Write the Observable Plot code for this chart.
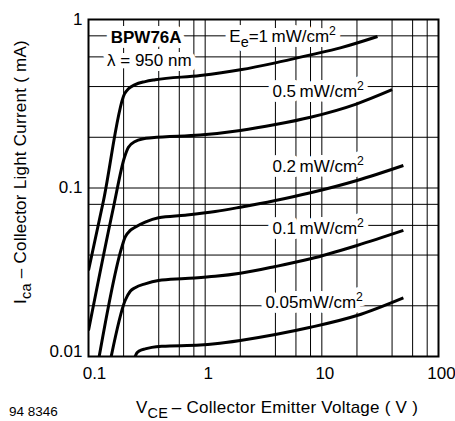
<!DOCTYPE html>
<html>
<head>
<meta charset="utf-8">
<script src="https://cdn.jsdelivr.net/npm/d3@7"></script>
<script src="https://cdn.jsdelivr.net/npm/@observablehq/plot@0.6"></script>
<style>
  html, body { margin: 0; padding: 0; background: #fff; }
  #chart { width: 455px; height: 421px; }
</style>
</head>
<body>
<div id="chart"></div>
<script>
// ---- Data ----
const vce1 = [0.1, 0.1345, 0.2035, 0.22, 0.251, 0.306, 0.373, 0.906, 2, 4, 8, 14.4, 30];
const ica1 = [0.0324, 0.0843, 0.362, 0.388, 0.411, 0.428, 0.439, 0.465, 0.503, 0.553, 0.617, 0.679, 0.793];

const vce05 = [0.1, 0.1637, 0.2035, 0.22, 0.251, 0.296, 0.349, 0.906, 2, 4, 8, 20, 40];
const ica05 = [0.01427, 0.0769, 0.1524, 0.1747, 0.1888, 0.196, 0.1986, 0.206, 0.2195, 0.238, 0.263, 0.316, 0.383];

const vce02 = [0.1235, 0.193, 0.206, 0.228, 0.251, 0.306, 0.398, 0.674, 1.218, 2, 4, 8, 20, 50];
const ica02 = [0.01, 0.0446, 0.0511, 0.056, 0.0585, 0.0627, 0.0666, 0.069, 0.0725, 0.0769, 0.0843, 0.0937, 0.1108, 0.136];

const vce01 = [0.1565, 0.206, 0.228, 0.251, 0.306, 0.398, 0.674, 1.218, 2, 4, 8, 20, 50];
const ica01 = [0.01, 0.0215, 0.0244, 0.02558, 0.027, 0.02825, 0.029, 0.0299, 0.0312, 0.0342, 0.038, 0.0456, 0.056];

const vce005 = [0.251, 0.26, 0.277, 0.306, 0.349, 0.4256, 0.906, 1.218, 2, 4, 8, 20, 50];
const ica005 = [0.01, 0.0105, 0.01086, 0.0111, 0.01133, 0.0115, 0.0117, 0.0119, 0.01245, 0.0135, 0.0149, 0.0175, 0.0223];

const seriesNames = ["1", "0.5", "0.2", "0.1", "0.05"];
const seriesX = [vce1, vce05, vce02, vce01, vce005];
const seriesY = [ica1, ica05, ica02, ica01, ica005];

const xTicks = [0.1, 1, 10, 100];
const xTickLabels = ["0.1", "1", "10", "100"];
const yTicks = [0.01, 0.1, 1];
const yTickLabels = ["0.01", "0.1", "1"];
const xGrid = [0.2, 0.4, 0.6, 0.8, 1, 2, 4, 6, 8, 10, 20, 40, 60, 80];
const yGrid = [0.02, 0.04, 0.06, 0.08, 0.1, 0.2, 0.4, 0.6, 0.8];

// curve annotations (text + anchor in data units)
const labelTexts = ["λ = 950 nm", "Ee=1 mW/cm2", "0.5 mW/cm2", "0.2 mW/cm2", "0.1 mW/cm2", "0.05mW/cm2"];
const labelX = [0.332, 4.61, 9.3, 9.3, 9.3, 8.59];
const labelY = [0.57, 0.79, 0.372, 0.134, 0.0575, 0.0208];
const boldTexts = ["BPW76A"];
const boldX = [0.312];
const boldY = [0.78];

const xTitle = [["V"], ["CE", "sub"], ["\u2009– Collector Emitter Voltage ( V )"]];
const yTitle = [["I"], ["ca", "sub"], [" – Collector Light Current ( mA)"]];
const figureCode = "94 8346";

// ---- Build tables ----
const curves = seriesNames.flatMap((s, k) => seriesX[k].map((x, i) => ({series: s, x, y: seriesY[k][i]})));
const labels = labelTexts.map((t, i) => ({t, x: labelX[i], y: labelY[i]}));
const bolds = boldTexts.map((t, i) => ({t, x: boldX[i], y: boldY[i]}));
const xFmt = new Map(xTicks.map((d, i) => [d, xTickLabels[i]]));
const yFmt = new Map(yTicks.map((d, i) => [d, yTickLabels[i]]));

const FONT = "'Liberation Sans', Arial, Helvetica, sans-serif";
const FS = 17;
const textOpts = {x: "x", y: "y", text: "t", fontSize: FS, textAnchor: "middle", lineAnchor: "middle"};
const haloOpts = {fill: "#fff", stroke: "#fff", strokeWidth: 10, strokeLinejoin: "round"};

const svg = Plot.plot({
  width: 455,
  height: 421,
  marginLeft: 88,
  marginRight: 17,
  marginTop: 19,
  marginBottom: 65,
  style: {fontFamily: FONT, fontSize: FS + "px", color: "#000", background: "#fff"},
  x: {type: "log", domain: [0.1, 100]},
  y: {type: "log", domain: [0.01, 1]},
  marks: [
    Plot.ruleX(xGrid, {stroke: "#000", strokeWidth: 1}),
    Plot.ruleY(yGrid, {stroke: "#000", strokeWidth: 1}),
    // white knock-out behind the labels
    Plot.text(bolds, {...textOpts, ...haloOpts, fontWeight: "bold"}),
    Plot.text(labels, {...textOpts, ...haloOpts}),
    // label text
    Plot.text(bolds, {...textOpts, fontWeight: "bold", fill: "#000"}),
    Plot.text(labels, {...textOpts, fill: "#000"}),
    Plot.line(curves, {x: "x", y: "y", z: "series", stroke: "#000", strokeWidth: 3,
      curve: "monotone-x", clip: true, strokeLinecap: "butt"}),
    Plot.frame({stroke: "#000", strokeWidth: 2}),
    Plot.axisX({ticks: xTicks.slice(0, 1), tickFormat: d => xFmt.get(d), tickSize: 0, tickPadding: 10,
      fontSize: FS, dx: 6, label: null}),
    Plot.axisX({ticks: xTicks.slice(1), tickFormat: d => xFmt.get(d), tickSize: 0, tickPadding: 10,
      fontSize: FS, dx: 3, label: null}),
    Plot.axisY({ticks: yTicks.slice(1), tickFormat: d => yFmt.get(d), tickSize: 0, tickPadding: 6,
      fontSize: FS, label: null}),
    Plot.axisY({ticks: yTicks.slice(0, 1), tickFormat: d => yFmt.get(d), tickSize: 0, tickPadding: 6,
      fontSize: FS, dy: -5, label: null})
  ]
});

// ---- rich text helper (sub/superscripts) ----
function setRich(el, segs, base) {
  const sel = d3.select(el);
  sel.text(null);
  let cur = 0;
  for (const [str, kind] of segs) {
    const target = kind === "sub" ? base * 0.3 : kind === "sup" ? -base * 0.42 : 0;
    const ts = sel.append("tspan").text(str);
    if (target !== cur) ts.attr("dy", target - cur);
    if (kind === "sub") ts.attr("font-size", base * 0.85);
    if (kind === "sup") ts.attr("font-size", base * 0.72);
    cur = target;
  }
}

const richMap = new Map([
  ["Ee=1 mW/cm2", [["E"], ["e", "sub"], ["=1\u2009mW/cm"], ["2", "sup"]]],
  ["0.5 mW/cm2", [["0.5\u2009mW/cm"], ["2", "sup"]]],
  ["0.2 mW/cm2", [["0.2\u2009mW/cm"], ["2", "sup"]]],
  ["0.1 mW/cm2", [["0.1\u2009mW/cm"], ["2", "sup"]]],
  ["0.05mW/cm2", [["0.05mW/cm"], ["2", "sup"]]]
]);
d3.select(svg).selectAll("text").each(function () {
  const key = this.textContent;
  if (richMap.has(key)) setRich(this, richMap.get(key), FS);
});

// axis titles
const s = d3.select(svg);
const xt = s.append("text").attr("x", 277).attr("y", 413).attr("text-anchor", "middle")
  .attr("font-size", FS).attr("fill", "#000").attr("font-family", FONT).attr("letter-spacing", 0.25);
setRich(xt.node(), xTitle, FS);
const yt = s.append("text").attr("transform", "translate(25.5,172) rotate(-90)").attr("text-anchor", "middle")
  .attr("font-size", FS).attr("fill", "#000").attr("font-family", FONT).attr("letter-spacing", 0.25);
setRich(yt.node(), yTitle, FS);
s.append("text").attr("x", 9).attr("y", 416).attr("text-anchor", "start").attr("font-size", 13.5)
  .attr("fill", "#000").attr("font-family", FONT).text(figureCode);

document.getElementById("chart").appendChild(svg);
</script>
</body>
</html>
